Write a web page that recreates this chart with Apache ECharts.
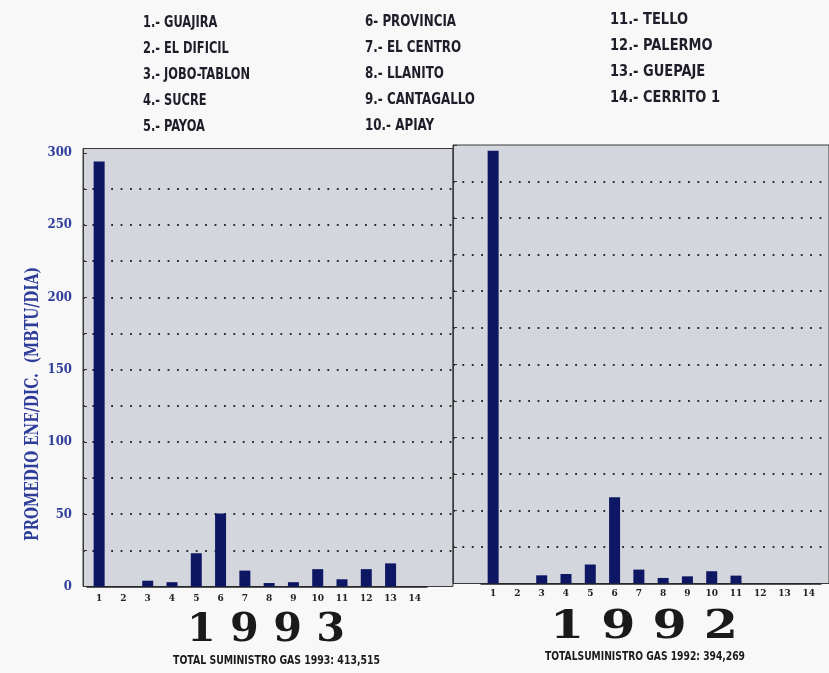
<!DOCTYPE html>
<html>
<head>
<meta charset="utf-8">
<script src="https://cdn.jsdelivr.net/npm/echarts@6/dist/echarts.min.js"></script>
<style>
html,body{margin:0;padding:0;background:#f8f8f8;}
#c{width:829px;height:673px;}
</style>
</head>
<body>
<div id="c"></div>
<script>
// ---- data ----
const categories = ['1','2','3','4','5','6','7','8','9','10','11','12','13','14'];
const legendCol1 = ['1.- GUAJIRA','2.- EL DIFICIL','3.- JOBO-TABLON','4.- SUCRE','5.- PAYOA'];
const legendCol2 = ['6- PROVINCIA','7.- EL CENTRO','8.- LLANITO','9.- CANTAGALLO','10.- APIAY'];
const legendCol3 = ['11.- TELLO','12.- PALERMO','13.- GUEPAJE','14.- CERRITO 1'];
const values1993 = [294, 0, 4, 3, 23, 50.5, 11, 2.4, 3, 12, 5, 12, 16, 0];
const values1992 = [296, 0, 5.6, 6.5, 13, 59, 9.5, 3.8, 4.9, 8.4, 5.4, 0, 0, 0];
const yTicks = [0, 50, 100, 150, 200, 250, 300];
const yTitle = 'PROMEDIO ENE/DIC.  (MBTU/DIA)';
const year1993 = '1 9 9 3';
const year1992 = '1 9 9 2';
const total1993 = 'TOTAL SUMINISTRO GAS 1993: 413,515';
const total1992 = 'TOTALSUMINISTRO GAS 1992: 394,269';

const SANS = '"DejaVu Sans Condensed","DejaVu Sans",sans-serif';
const SERIFC = '"DejaVu Serif Condensed","DejaVu Serif",serif';
const SERIF = '"DejaVu Serif","Liberation Serif",serif';
const BLUE = '#2e3c9a';
const NAVY = '#0e1763';
const PLOT = '#d3d6dc';

const ctx = document.createElement('canvas').getContext('2d');
function widthOf(text, font) {
  ctx.font = font;
  return Math.max.apply(null, text.split('\n').map(t => ctx.measureText(t).width));
}
function fitText(text, font, x, y, target, extra) {
  const s = target / widthOf(text, font);
  return {
    type: 'text', x: x, y: y, scaleX: s,
    style: Object.assign({text: text, font: font, fill: '#1e1e2a', verticalAlign: 'top'}, (extra || {}))
  };
}

const chart = echarts.init(document.getElementById('c'));

const dotted = {show: true, showMinLine: false, showMaxLine: false,
  lineStyle: {color: '#2a2a2a', width: 1.8, type: [1.8, 7.6]}};

const LFONT = 'bold 15px ' + SANS;

const option = {
  animation: false,
  backgroundColor: '#f8f8f8',
  grid: [
    // left panel frame
    {left: 83, right: 376, top: 148.5, bottom: 86.5, show: true, backgroundColor: PLOT, borderColor: '#3a3a3a', borderWidth: 1},
    // left gridlines
    {left: 83, right: 376, top: 152.8, bottom: 86.5},
    // left bars
    {left: 87, width: 340, top: 152.8, bottom: 86.5},
    // right panel frame
    {left: 453, right: -3, top: 145, bottom: 89.5, show: true, backgroundColor: PLOT, borderColor: '#3a3a3a', borderWidth: 1},
    // right bars
    {left: 481, width: 340, top: 145, bottom: 89.5}
  ],
  xAxis: [
    {gridIndex: 0, type: 'category', data: [], show: false},
    {gridIndex: 1, type: 'category', data: [], show: false},
    {gridIndex: 2, type: 'category', data: categories,
      axisLine: {show: true, lineStyle: {color: '#222', width: 1.5}}, axisTick: {show: false},
      axisLabel: {color: '#222', fontFamily: SERIFC, fontWeight: 'bold', fontSize: 10, margin: 7}},
    {gridIndex: 3, type: 'category', data: [], show: false},
    {gridIndex: 4, type: 'category', data: categories,
      axisLine: {show: true, lineStyle: {color: '#222', width: 1.5}}, axisTick: {show: false},
      axisLabel: {color: '#222', fontFamily: SERIFC, fontWeight: 'bold', fontSize: 10, margin: 5}}
  ],
  yAxis: [
    {gridIndex: 0, type: 'value', min: 0, max: 303, interval: 25,
      axisLine: {show: true, lineStyle: {color: '#3a3a3a'}},
      axisTick: {show: true, inside: true, length: 4, lineStyle: {color: '#333'}},
      axisLabel: {color: BLUE, fontFamily: SERIFC, fontWeight: 'bold', fontSize: 13, margin: 11,
        formatter: v => yTicks.indexOf(v) >= 0 ? String(v) : ''},
      splitLine: {show: false}},
    {gridIndex: 1, type: 'value', min: 0, max: 300, interval: 25,
      axisLine: {show: false}, axisTick: {show: false}, axisLabel: {show: false}, splitLine: dotted},
    {gridIndex: 2, type: 'value', min: 0, max: 300, interval: 25, show: false, splitLine: {show: false}},
    {gridIndex: 3, type: 'value', min: 0, max: 300, interval: 25,
      axisLine: {show: true, lineStyle: {color: '#3a3a3a'}},
      axisTick: {show: true, inside: true, length: 4, lineStyle: {color: '#333'}},
      axisLabel: {show: false}, splitLine: dotted},
    {gridIndex: 4, type: 'value', min: 0, max: 300, interval: 25, show: false, splitLine: {show: false}}
  ],
  series: [
    {type: 'bar', xAxisIndex: 2, yAxisIndex: 2, data: values1993, barWidth: 11, itemStyle: {color: NAVY}},
    {type: 'bar', xAxisIndex: 4, yAxisIndex: 4, data: values1992, barWidth: 11, itemStyle: {color: NAVY}}
  ],
  graphic: [
    fitText(legendCol1.join('\n'), LFONT, 143, 10, 107, {lineHeight: 26}),
    fitText(legendCol2.join('\n'), LFONT, 365, 9, 110, {lineHeight: 26}),
    fitText(legendCol3.join('\n'), LFONT, 610, 7, 110, {lineHeight: 26}),
    Object.assign(fitText(yTitle, 'bold 19px ' + SERIFC, 33, 404, 274,
      {fill: BLUE, align: 'center', verticalAlign: 'middle'}), {rotation: Math.PI / 2}),
    fitText(year1993, 'bold 40px ' + SERIF, 187, 611, 158, {fill: '#1a1a1a'}),
    fitText(total1993, 'bold 12px ' + SANS, 173, 655, 207, {fill: '#1a1a1a'}),
    fitText(year1992, 'bold 40px ' + SERIF, 550, 608, 188, {fill: '#1a1a1a'}),
    fitText(total1992, 'bold 12px ' + SANS, 545, 651, 200, {fill: '#1a1a1a'})
  ]
};
chart.setOption(option);
</script>
</body>
</html>
